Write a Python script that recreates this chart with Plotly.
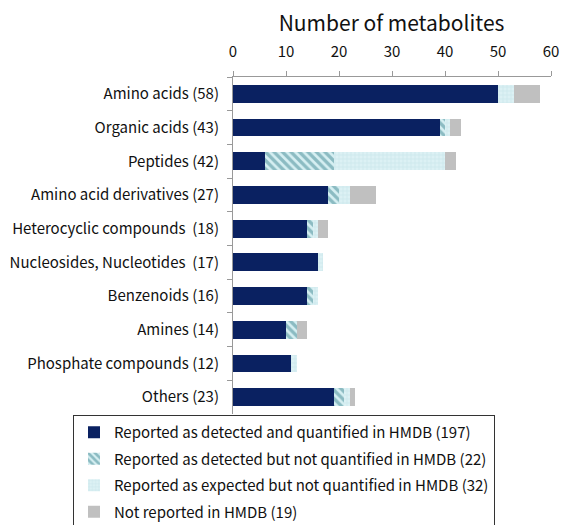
import plotly.graph_objects as go

categories = ["Amino acids (58)", "Organic acids (43)", "Peptides (42)", "Amino acid derivatives (27)",
              "Heterocyclic compounds  (18)", "Nucleosides, Nucleotides  (17)", "Benzenoids (16)",
              "Amines (14)", "Phosphate compounds (12)", "Others (23)"]
detected_quantified = [50, 39, 6, 18, 14, 16, 14, 10, 11, 19]
detected_not_quantified = [0, 1, 13, 2, 1, 0, 1, 2, 0, 2]
expected_not_quantified = [3, 1, 21, 2, 1, 1, 1, 0, 1, 1]
not_reported = [5, 2, 2, 5, 2, 0, 0, 2, 0, 1]
series_names = ["Reported as detected and quantified in HMDB (197)",
                "Reported as detected but not quantified in HMDB (22)",
                "Reported as expected but not quantified in HMDB (32)",
                "Not reported in HMDB (19)"]
x_ticks = [0, 10, 20, 30, 40, 50, 60]

FONT = "Noto Sans CJK JP, DejaVu Sans, sans-serif"

fig = go.Figure()
fig.add_trace(go.Bar(y=categories, x=detected_quantified, orientation="h", name=series_names[0],
                     marker=dict(color="#0a2161", line=dict(width=0)), legendgroup="a"))
fig.add_trace(go.Bar(y=categories, x=detected_not_quantified, orientation="h", name=series_names[1],
                     marker=dict(color="#d6eff2", line=dict(width=0),
                                 pattern=dict(shape="\\", fgcolor="#3f8792", bgcolor="#d6eff2",
                                              size=6, solidity=0.55)), legendgroup="b"))
fig.add_trace(go.Bar(y=categories, x=expected_not_quantified, orientation="h", name=series_names[2],
                     marker=dict(color="#d9f0f3", line=dict(width=0),
                                 pattern=dict(shape="+", fgcolor="#b4dce2", bgcolor="#dcf1f4",
                                              size=4, solidity=0.3)), legendgroup="c"))
fig.add_trace(go.Bar(y=categories, x=not_reported, orientation="h", name=series_names[3],
                     marker=dict(color="#c0c0c0", line=dict(width=0)), legendgroup="d"))

# page has an 8px body margin, so figure coordinates = page coordinates - 8
fig.update_layout(
    barmode="stack",
    bargap=0.47,
    width=569, height=525,
    margin=dict(l=225, r=26, t=69, b=119, autoexpand=False),
    paper_bgcolor="white", plot_bgcolor="white",
    font=dict(family=FONT, size=15, color="#111111"),
    title=dict(text="Number of metabolites", font=dict(size=21, family=FONT, color="#111111"),
               x=383.5 / 569, xanchor="center", y=1 - 16 / 525, yanchor="middle"),
    legend=dict(x=(65 - 225) / 318, y=-1 / 337, xanchor="left", yanchor="top",
                bordercolor="#333333", borderwidth=1, bgcolor="white",
                font=dict(size=15, family=FONT, color="#111111"),
                traceorder="grouped", tracegroupgap=4, itemwidth=30),
    showlegend=True,
)
fig.update_xaxes(side="top", range=[0, 60], tickvals=x_ticks, showgrid=False, zeroline=False,
                 automargin=False,
                 showline=True, linecolor="#999999", linewidth=1, ticks="outside", ticklen=5,
                 tickcolor="#999999", ticklabelstandoff=8,
                 tickfont=dict(size=15, family=FONT, color="#111111"))
fig.update_yaxes(autorange="reversed", showgrid=False, showline=True, linecolor="#999999", linewidth=1,
                 automargin=False,
                 ticks="outside", ticklen=5, tickcolor="#999999", tickson="boundaries",
                 ticklabelstandoff=10,
                 tickfont=dict(size=15, family=FONT, color="#111111"))

fig.write_html("out.html")
